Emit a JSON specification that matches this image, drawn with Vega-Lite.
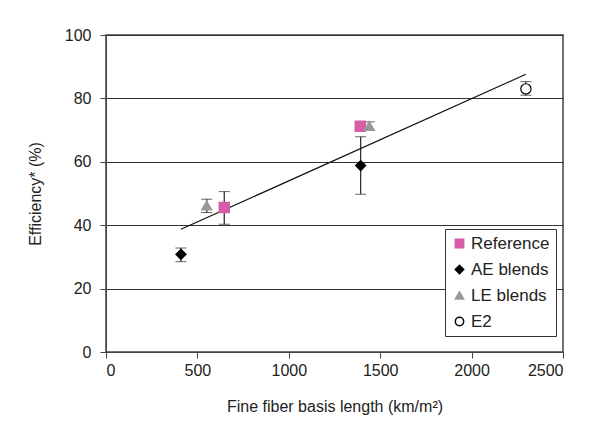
{
  "$schema": "https://vega.github.io/schema/vega-lite/v6.json",
  "autosize": "none",
  "width": 457,
  "height": 317,
  "padding": {"left": 106, "top": 35, "right": 35, "bottom": 80},
  "background": "white",
  "config": {
    "font": "Liberation Sans",
    "view": {"stroke": "#444", "strokeWidth": 1.5},
    "axis": {
      "labelFont": "Liberation Sans",
      "titleFont": "Liberation Sans",
      "labelFontSize": 16,
      "titleFontSize": 16,
      "titleFontWeight": "normal",
      "labelColor": "#222",
      "titleColor": "#222",
      "domainColor": "#444",
      "tickColor": "#444",
      "tickSize": 6,
      "gridColor": "#333",
      "gridWidth": 1,
      "gridOpacity": 1
    },
    "legend": {"labelFont": "Liberation Sans", "labelFontSize": 17, "labelColor": "#222"}
  },
  "datasets": {
    "pts": [
      {"series": "Reference", "x": 647, "y": 45.6, "lo": 40.3, "hi": 50.6},
      {"series": "Reference", "x": 1391, "y": 71.2, "lo": 70.2, "hi": 72.2},
      {"series": "AE blends", "x": 410, "y": 30.8, "lo": 28.5, "hi": 32.8},
      {"series": "AE blends", "x": 1393, "y": 58.8, "lo": 49.8, "hi": 67.9},
      {"series": "LE blends", "x": 551, "y": 46.2, "lo": 44.0, "hi": 48.2},
      {"series": "LE blends", "x": 1440, "y": 71.3, "lo": 70.0, "hi": 72.6},
      {"series": "E2", "x": 2297, "y": 83.0, "lo": 81.0, "hi": 85.3}
    ],
    "trend": [
      {"x": 410, "y": 38.7},
      {"x": 2297, "y": 87.6}
    ]
  },
  "layer": [
    {
      "data": {"name": "pts"},
      "mark": {"type": "errorbar", "ticks": {"size": 11, "color": "#222"}, "rule": {"color": "#333", "strokeWidth": 1.3}},
      "encoding": {
        "x": {"field": "x", "type": "quantitative",
          "scale": {"domain": [0, 2500], "nice": false},
          "axis": {"values": [0, 500, 1000, 1500, 2000, 2500], "format": "d", "grid": false, "title": "Fine fiber basis length (km/m²)", "titlePadding": 20, "labelPadding": 4}},
        "y": {"field": "lo", "type": "quantitative",
          "scale": {"domain": [0, 100], "nice": false},
          "axis": {"values": [0, 20, 40, 60, 80, 100], "grid": true, "title": "Efficiency* (%)", "titlePadding": 21, "labelPadding": 9}},
        "y2": {"field": "hi"}
      }
    },
    {
      "data": {"name": "trend"},
      "mark": {"type": "line", "color": "#111", "strokeWidth": 1.2},
      "encoding": {
        "x": {"field": "x", "type": "quantitative"},
        "y": {"field": "y", "type": "quantitative"}
      }
    },
    {
      "data": {"name": "pts"},
      "mark": {"type": "point", "filled": true, "opacity": 1, "strokeWidth": 1.2, "size": 105},
      "encoding": {
        "x": {"field": "x", "type": "quantitative"},
        "y": {"field": "y", "type": "quantitative"},
        "shape": {"field": "series", "type": "nominal",
          "scale": {"domain": ["Reference", "AE blends", "LE blends", "E2"], "range": ["square", "diamond", "triangle-up", "circle"]},
          "legend": {"title": null, "orient": "none", "legendX": 339, "legendY": 194, "strokeColor": "#333", "padding": 6, "rowPadding": 8, "symbolSize": 70, "labelOffset": 3, "fillColor": "white"}},
        "fill": {"field": "series", "type": "nominal",
          "scale": {"domain": ["Reference", "AE blends", "LE blends", "E2"], "range": ["#d65ca6", "#000000", "#999999", "#ffffff"]}},
        "stroke": {"field": "series", "type": "nominal",
          "scale": {"domain": ["Reference", "AE blends", "LE blends", "E2"], "range": ["#d65ca6", "#000000", "#999999", "#000000"]}}
      }
    }
  ]
}
